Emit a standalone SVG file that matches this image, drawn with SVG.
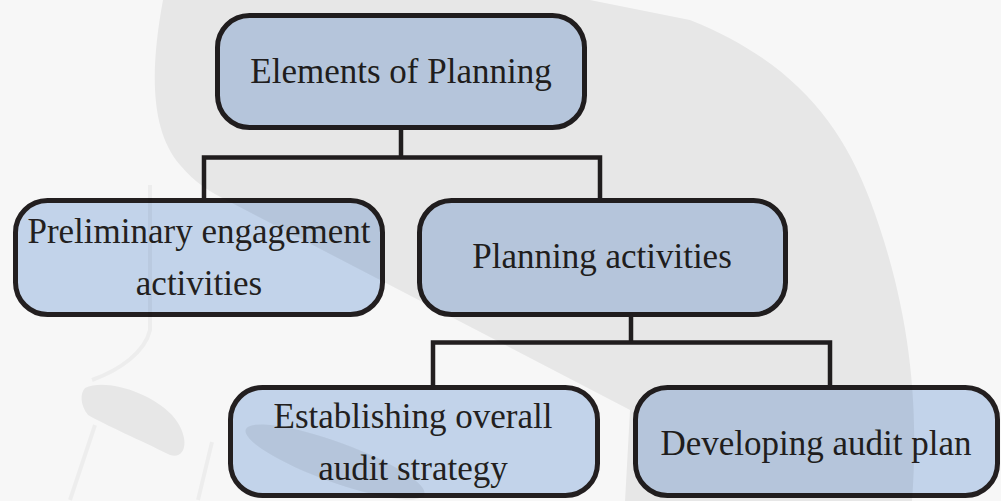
<svg xmlns="http://www.w3.org/2000/svg" width="1001" height="501" viewBox="0 0 1001 501" font-family="'Liberation Serif', 'DejaVu Serif', 'Times New Roman', serif">
<style>
.box{fill:#c2d3ea;stroke:#231f20;stroke-width:5}
.lbl{font-family:'Liberation Serif','DejaVu Serif','Times New Roman',serif;font-size:35px;fill:#231f20;text-anchor:middle}
.conn{fill:none;stroke:#231f20;stroke-width:4.5;stroke-linejoin:miter}
.wm{fill:#000;fill-opacity:0.062;stroke:none}
.wml{fill:none;stroke:#000;stroke-opacity:0.04;stroke-width:4}
</style>
<rect x="0" y="0" width="1001" height="501" fill="#f7f7f7"/>
<g id="connectors">
<path class="conn" d="M401,130 V157.5 M204,200 V157.5 H600 V200"/>
<path class="conn" d="M631,316 V342.5 M433,387 V342.5 H830 V387"/>
</g>
<g id="node-elements">
<rect class="box" x="217.5" y="15.5" width="367" height="112" rx="32"/>
<text class="lbl" font-family="'Liberation Serif', serif" x="401" y="83">Elements of Planning</text>
</g>
<g id="node-preliminary">
<rect class="box" x="15.5" y="200.5" width="367" height="114" rx="32"/>
<text class="lbl" font-family="'Liberation Serif', serif" x="199" y="243">Preliminary engagement</text>
<text class="lbl" font-family="'Liberation Serif', serif" x="199" y="295">activities</text>
</g>
<g id="node-planning">
<rect class="box" x="419.5" y="200.5" width="366" height="114" rx="32"/>
<text class="lbl" font-family="'Liberation Serif', serif" x="602" y="268">Planning activities</text>
</g>
<g id="node-strategy">
<rect class="box" x="230.5" y="387.5" width="367" height="108" rx="32"/>
<text class="lbl" font-family="'Liberation Serif', serif" x="413" y="428">Establishing overall</text>
<text class="lbl" font-family="'Liberation Serif', serif" x="413" y="480">audit strategy</text>
</g>
<g id="node-plan">
<rect class="box" x="635.5" y="387.5" width="362" height="108" rx="32"/>
<text class="lbl" font-family="'Liberation Serif', serif" x="816" y="455">Developing audit plan</text>
</g>
<g id="watermark">
<path class="wm" d="M163,0 C150,70 150,130 180,165 C195,183 210,192 230,202 L630,410 L625,501 L912,501 C918,420 915,320 870,200 C840,120 790,60 690,20 L590,0 Z"/>
<path class="wml" d="M150,185 L150,330 C145,352 120,370 92,380"/>
<path class="wm" d="M85,388 C105,378 150,392 172,415 C190,435 188,460 170,455 C140,440 105,425 88,415 C80,405 80,393 85,388 Z"/>
<path class="wml" d="M95,425 L70,500 M212,442 L198,500"/>
<ellipse class="wm" cx="335" cy="462" rx="95" ry="20" transform="rotate(20 335 462)"/>
</g>
</svg>
